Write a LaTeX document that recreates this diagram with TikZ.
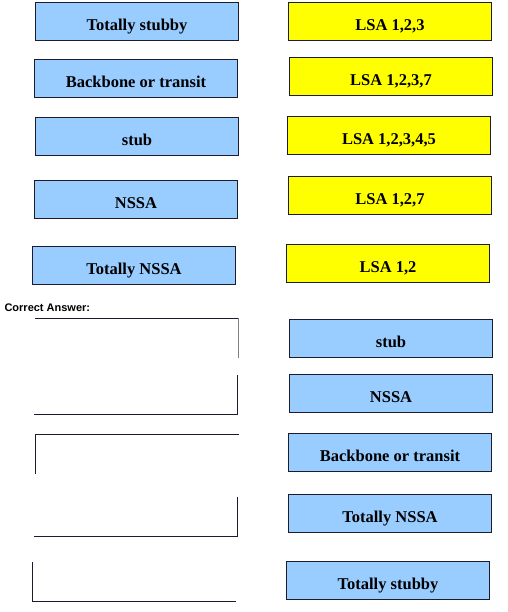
\documentclass[tikz,border=0pt]{standalone}
\usepackage{fontspec}
\setmainfont{Liberation Serif}
\newfontfamily\answerfont{Liberation Sans}
\usepackage{tikz}
\usetikzlibrary{calc}

\definecolor{areablue}{HTML}{99CCFF}
\definecolor{lsayellow}{HTML}{FFFF00}
\definecolor{boxline}{HTML}{1C1C2C}

\begin{document}
\begin{tikzpicture}[x=1pt, y=-1pt,
    card/.style={draw=boxline, line width=1.4pt, minimum width=203pt, minimum height=38pt,
        inner sep=0pt, text height=20pt, text depth=2pt, font=\fontsize{16.5}{18}\selectfont\bfseries},
    areacard/.style={card, fill=areablue},
    lsacard/.style={card, fill=lsayellow},
    slot/.style={minimum width=203pt, minimum height=39pt, inner sep=0pt},
    edge/.style={draw=boxline, line width=1.2pt}]
    \useasboundingbox (0,0) rectangle (507,612);

    % Question: area types
    \node[areacard] (q1) at (137,21.5) {Totally stubby};
    \node[areacard] (q2) at (136,78.5) {Backbone or transit};
    \node[areacard] (q3) at (137,136.5) {stub};
    \node[areacard] (q4) at (136,199.5) {NSSA};
    \node[areacard] (q5) at (134,265.5) {Totally NSSA};

    % Question: LSA types
    \node[lsacard] (l1) at (390,21.5) {LSA 1,2,3};
    \node[lsacard] (l2) at (391,76.5) {LSA 1,2,3,7};
    \node[lsacard] (l3) at (389,135.5) {LSA 1,2,3,4,5};
    \node[lsacard] (l4) at (390,195.5) {LSA 1,2,7};
    \node[lsacard] (l5) at (388,263.5) {LSA 1,2};

    \node[anchor=west, font=\answerfont\fontsize{11}{12}\selectfont\bfseries] (ans) at (1,308) {Correct Answer:};

    % Answer: empty slots (only some sides show)
    \node[slot] (s1) at (137,338) {};
    \node[slot] (s2) at (136,395) {};
    \node[slot] (s3) at (137,454) {};
    \node[slot] (s4) at (136,516.5) {};
    \node[slot] (s5) at (134.5,582) {};
    \draw[edge] (s1.north west) -- (s1.north east);
    \draw[edge, draw=gray] (s1.north east) -- (s1.south east);
    \draw[edge] (s2.north east) -- (s2.south east) -- (s2.south west);
    \draw[edge] (s3.north east) -- (s3.north west) -- (s3.south west);
    \draw[edge] (s4.north east) -- (s4.south east) -- (s4.south west);
    \draw[edge] (s5.north west) -- (s5.south west) -- (s5.south east);

    % Answer: area types in order
    \node[areacard] (a1) at (391,338.5) {stub};
    \node[areacard] (a2) at (391,393.5) {NSSA};
    \node[areacard] (a3) at (390,452.5) {Backbone or transit};
    \node[areacard] (a4) at (390,513.5) {Totally NSSA};
    \node[areacard] (a5) at (388,580.5) {Totally stubby};
\end{tikzpicture}
\end{document}
